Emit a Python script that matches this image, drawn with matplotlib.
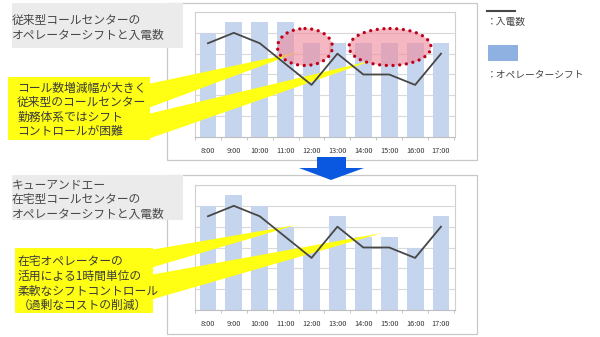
import numpy as np
import matplotlib
matplotlib.use('Agg')
import matplotlib.pyplot as plt
from matplotlib.patches import Rectangle, Polygon, Ellipse
from matplotlib.lines import Line2D
from matplotlib.transforms import Affine2D

plt.rcParams['font.family'] = ['Noto Sans CJK JP', 'DejaVu Sans']

# data
hours = ['8:00', '9:00', '10:00', '11:00', '12:00', '13:00', '14:00', '15:00', '16:00', '17:00']
calls = [4.5, 5.0, 4.5, 3.5, 2.5, 4.0, 3.0, 3.0, 2.5, 4.0]           # 入電数
shift_old = [5.0, 5.5, 5.5, 5.5, 4.5, 4.5, 4.5, 4.5, 4.5, 4.5]       # 従来型 オペレーターシフト
shift_new = [5.0, 5.5, 5.0, 4.0, 3.0, 4.5, 3.5, 3.5, 3.0, 4.5]       # 在宅型 オペレーターシフト

title_old = ['従来型コールセンターの', 'オペレーターシフトと入電数']
title_new = ['キューアンドエー', '在宅型コールセンターの', 'オペレーターシフトと入電数']
note_old = ['コール数増減幅が大きく', '従来型のコールセンター', '勤務体系ではシフト', 'コントロールが困難']
note_new = ['在宅オペレーターの', '活用による1時間単位の', '柔軟なシフトコントロール', '（過剰なコストの削減）']

W, H = 600, 337
fig = plt.figure(figsize=(W / 100, H / 100), dpi=100)
fig.patch.set_facecolor('white')
# pixel coords, origin top-left
tr = Affine2D().scale(1 / W, -1 / H).translate(0, 1) + fig.transFigure

BAR = '#c5d5ee'
LINE = '#474747'
YEL = '#ffff14'
TXT = '#3a3a3a'


def make_chart(top, shifts):
    ax = fig.add_axes([195 / W, 1 - (top + 125) / H, 260 / W, 125 / H], zorder=2)
    x = np.arange(len(hours))
    ax.bar(x, shifts, width=0.65, color=BAR, zorder=2)
    ax.plot(x, calls, color=LINE, lw=1.3, zorder=4)
    ax.set_xlim(-0.46, 9.54)
    ax.set_ylim(0, 6)
    ax.set_yticks(range(7))
    ax.yaxis.grid(True, color='#d9d9d9', lw=0.8)
    ax.set_axisbelow(True)
    ax.set_xticks(x)
    ax.set_xticklabels(hours)
    ax.set_xticks(np.arange(-0.5, 10, 1), minor=True)
    ax.tick_params(axis='x', which='major', length=0, pad=7, labelsize=5.3, labelcolor='#333333')
    ax.tick_params(axis='x', which='minor', length=2, color='#bbbbbb')
    ax.tick_params(axis='y', length=0, labelleft=False)
    for s in ax.spines.values():
        s.set_color('#d0d0d0')
        s.set_linewidth(0.8)
    ax.spines['bottom'].set_color('#bfbfbf')
    return ax


def callout(ax, box, wedges, lines, y0, x0):
    fig.patches.append(Rectangle((box[0], box[1]), box[2], box[3], transform=tr,
                                 facecolor=YEL, edgecolor='none', zorder=2.5))
    for w in wedges:
        ax.add_patch(Polygon(w, closed=True, transform=tr, facecolor=YEL,
                             edgecolor='none', clip_on=False, zorder=3))
    for i, t in enumerate(lines):
        fig.text(x0, y0 + i * 14.5, t, transform=tr, fontsize=8.5, color=TXT,
                 va='center', ha='left', zorder=4)


# outer frames and grey title boxes
for top, bot in [(3, 160), (175, 334)]:
    fig.patches.append(Rectangle((167, top), 310, bot - top, transform=tr, facecolor='white',
                                 edgecolor='#c8c8c8', lw=0.9, zorder=1))
for top in [3, 175]:
    fig.patches.append(Rectangle((12, top), 171, 45, transform=tr, facecolor='#ebebeb',
                                 edgecolor='none', zorder=1.5))

ax1 = make_chart(12, shift_old)
ax2 = make_chart(185, shift_new)

for i, t in enumerate(title_old):
    fig.text(12, 20 + i * 15, t, transform=tr, fontsize=8.5, color='#484848', va='center', zorder=4)
for i, t in enumerate(title_new):
    fig.text(12, 185 + i * 14.5, t, transform=tr, fontsize=8.5, color='#484848', va='center', zorder=4)

callout(ax1, (8, 77, 142, 63),
        [[(148, 84), (148, 108), (299, 52)], [(148, 114), (148, 139), (374, 60)]],
        note_old, 88, 17)
callout(ax2, (15, 248, 138, 65),
        [[(150, 250), (150, 268), (296, 225)], [(150, 275), (150, 300), (382, 233)]],
        note_new, 262, 18)

# dotted pink ellipses on the top chart
for cx, w in [(305, 55), (390, 82)]:
    ax1.add_patch(Ellipse((cx, 47), w, 37, transform=tr, facecolor='#f08c9c', alpha=0.62,
                          edgecolor='none', clip_on=False, zorder=3.5))
    e = Ellipse((cx, 47), w, 37, transform=tr, facecolor='none', edgecolor='#c00018',
                lw=2.4, linestyle=(0, (0.01, 2.0)), clip_on=False, zorder=3.6)
    e.set_capstyle('round')
    ax1.add_patch(e)

# blue arrow between the charts
arrow = [(317, 157), (346, 157), (346, 168), (364, 168), (331, 180), (299, 168), (317, 168)]
fig.patches.append(Polygon(arrow, closed=True, transform=tr, facecolor='#0a58e0',
                           edgecolor='none', zorder=3))

# legend
fig.lines.append(Line2D([487, 515], [11, 11], transform=tr, color=LINE, lw=1.5))
fig.text(487, 22, '：入電数', transform=tr, fontsize=7, color='#444444', va='center')
fig.patches.append(Rectangle((488, 45), 30, 16, transform=tr, facecolor='#8fb1e2',
                             edgecolor='none'))
fig.text(487, 75, '：オペレーターシフト', transform=tr, fontsize=7, color='#444444', va='center')

fig.savefig('out.png', dpi=100)
